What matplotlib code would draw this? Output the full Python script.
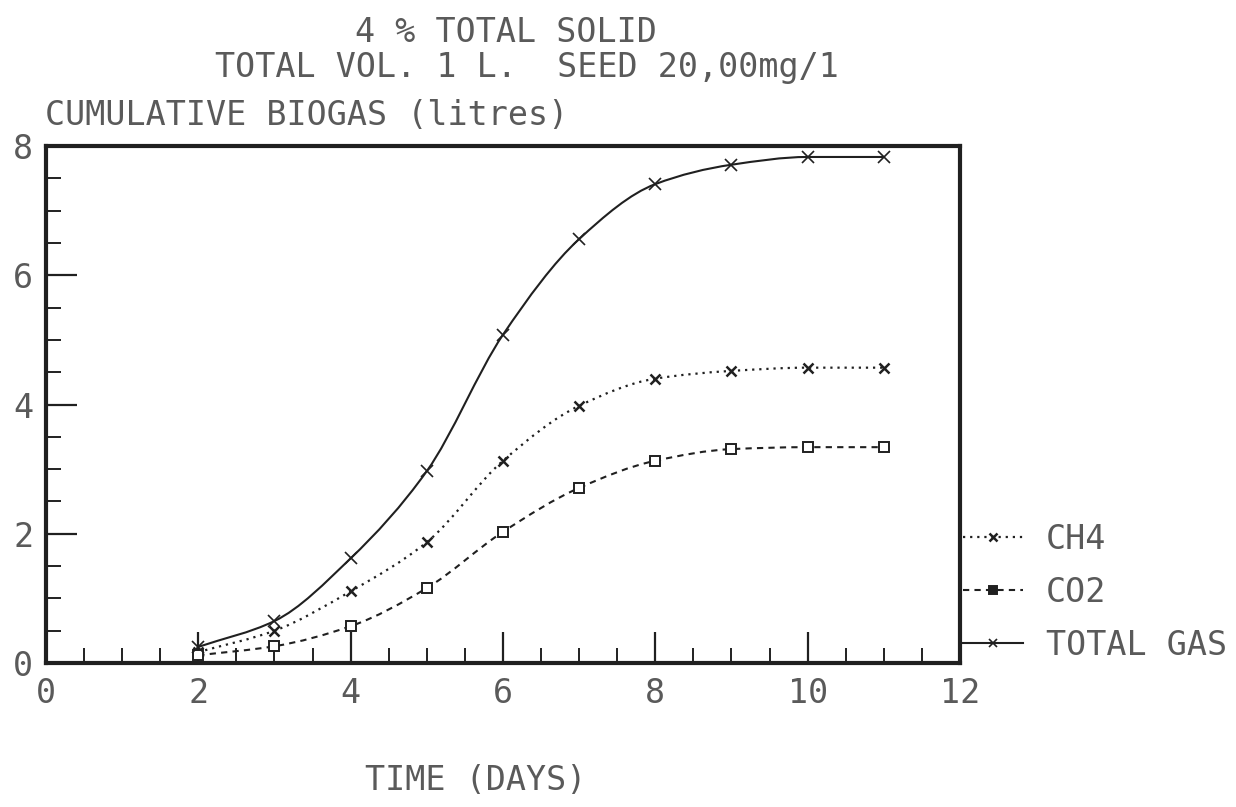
import matplotlib
matplotlib.use("Agg")
import matplotlib.pyplot as plt
import numpy as np
from matplotlib.lines import Line2D
from matplotlib.patches import PathPatch
from matplotlib.path import Path
from matplotlib.ticker import MultipleLocator

days = [2, 3, 4, 5, 6, 7, 8, 9, 10, 11]
ch4 = [0.17, 0.50, 1.11, 1.87, 3.13, 3.98, 4.40, 4.52, 4.57, 4.57]
co2 = [0.12, 0.26, 0.57, 1.16, 2.03, 2.71, 3.13, 3.31, 3.34, 3.34]
total = [0.25, 0.65, 1.62, 2.97, 5.08, 6.56, 7.41, 7.71, 7.83, 7.83]

x_ticks = [0, 2, 4, 6, 8, 10, 12]
y_ticks = [0, 2, 4, 6, 8]

# plotter output: fixed pitch lettering
plt.rcParams["font.family"] = ["DejaVu Sans Mono", "DejaVu Sans"]
FS = 24
TXT = "#5a5a5a"
INK = "#202020"


def smooth_path(x, y):
    # monotone cubic (Fritsch-Carlson) drawn as bezier segments through the points
    x = np.asarray(x, float)
    y = np.asarray(y, float)
    h = np.diff(x)
    d = np.diff(y) / h
    m = np.empty_like(y)
    m[0], m[-1] = d[0], d[-1]
    for i in range(1, len(y) - 1):
        m[i] = 0.0 if d[i - 1] * d[i] <= 0 else 2 / (1 / d[i - 1] + 1 / d[i])
    verts = [(x[0], y[0])]
    codes = [Path.MOVETO]
    for i in range(len(x) - 1):
        verts += [(x[i] + h[i] / 3, y[i] + m[i] * h[i] / 3),
                  (x[i + 1] - h[i] / 3, y[i + 1] - m[i + 1] * h[i] / 3),
                  (x[i + 1], y[i + 1])]
        codes += [Path.CURVE4] * 3
    return Path(verts, codes)


fig = plt.figure(figsize=(12.36, 8.07), dpi=100)
ax = fig.add_axes([0.0372, 0.1784, 0.7395, 0.6407])

series = [
    ("CH4", ch4, (0, (1, 2.2)), 1.6, dict(marker="x", markersize=7, markeredgewidth=1.8)),
    ("CO2", co2, (0, (3, 2.5)), 1.5, dict(marker="s", markersize=7, markerfacecolor="white",
                                          markeredgewidth=1.4)),
    ("TOTAL GAS", total, "-", 1.5, dict(marker="x", markersize=8, markeredgewidth=1.2)),
]
handles = []
for name, vals, ls, lw, mk in series:
    ax.add_patch(PathPatch(smooth_path(days, vals), facecolor="none", edgecolor=INK,
                           linestyle=ls, linewidth=lw))
    ax.plot(days, vals, linestyle="none", color=INK, **mk)
    hmk = dict(mk)
    hmk["markersize"] = mk["markersize"] * 0.8
    if name == "CO2":
        hmk["markerfacecolor"] = INK
    handles.append(Line2D([], [], color=INK, linestyle=ls, linewidth=lw, label=name, **hmk))

ax.set_xlim(0, 12)
ax.set_ylim(0, 8)
ax.set_xticks(x_ticks)
ax.set_yticks(y_ticks)
ax.xaxis.set_minor_locator(MultipleLocator(0.5))
ax.yaxis.set_minor_locator(MultipleLocator(0.5))
ax.tick_params(which="major", direction="in", length=22, width=1.6, color=INK,
               labelsize=FS, labelcolor=TXT, pad=10)
ax.tick_params(which="minor", direction="in", length=11, width=1.4, color=INK)
ax.tick_params(axis="y", which="major", pad=9)
for s in ax.spines.values():
    s.set_linewidth(3)
    s.set_color(INK)

fig.text(0.287, 0.960, "4 % TOTAL SOLID", ha="left", va="center", fontsize=FS, color=TXT)
fig.text(0.174, 0.916, "TOTAL VOL. 1 L.  SEED 20,00mg/1", ha="left", va="center",
         fontsize=FS, color=TXT)
fig.text(0.0364, 0.857, "CUMULATIVE BIOGAS (litres)", ha="left", va="center",
         fontsize=FS, color=TXT)
fig.text(0.385, 0.033, "TIME (DAYS)", ha="center", va="center", fontsize=FS, color=TXT)

leg = fig.legend(handles=handles, loc="upper left", bbox_to_anchor=(0.779, 0.352),
                 frameon=False, fontsize=FS, handlelength=1.8, handletextpad=0.7,
                 labelspacing=0.6, borderpad=0, borderaxespad=0)
for t in leg.get_texts():
    t.set_color(TXT)

fig.savefig("out.png", dpi=100)
